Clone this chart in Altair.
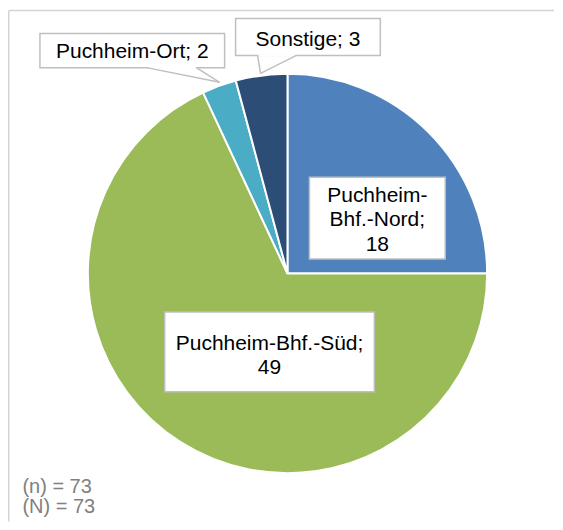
import altair as alt
import pandas as pd

# ---- data ----
categories = ["Puchheim-Bhf.-Nord", "Puchheim-Bhf.-Süd", "Puchheim-Ort", "Sonstige"]
values = [18, 49, 2, 3]
colors = ["#4F81BD", "#9BBB59", "#4BACC6", "#2C4D75"]
label_texts = ["Puchheim-\nBhf.-Nord;\n18", "Puchheim-Bhf.-Süd;\n49", "Puchheim-Ort; 2", "Sonstige; 3"]
note_text = "(n) = 73\n(N) = 73"

# ---- layout (pixel positions of annotation boxes, relative to chart origin) ----
box_x1 = [302, 157, 32, 228]
box_x2 = [438, 367, 217, 373]
box_y1 = [169, 304, 25, 10]
box_y2 = [251, 384, 59.5, 47]
txt_x = [370, 262, 124.5, 300.5]
txt_y = [193.5, 342, 50, 38]   # baseline of first line
# callout wedges: (base left, base right, tip)
wedge_bx1 = [None, None, 140, 250]
wedge_bx2 = [None, None, 189, 289]
wedge_by = [None, None, 59.5, 47]
wedge_tx = [None, None, 212, 253]
wedge_ty = [None, None, 74, 65]

W, H = 547, 514
FONT = "Liberation Sans"

pie_df = pd.DataFrame({"category": categories, "value": values, "order": list(range(len(values)))})
box_df = pd.DataFrame({"x1": box_x1, "x2": box_x2, "y1": box_y1, "y2": box_y2,
                       "tx": txt_x, "ty": txt_y, "label": label_texts})
wd = []
for i in range(len(categories)):
    if wedge_bx1[i] is None:
        continue
    wd.append({"x": wedge_bx1[i], "y": wedge_by[i], "x2": wedge_tx[i], "y2": wedge_ty[i]})
    wd.append({"x": wedge_bx2[i], "y": wedge_by[i], "x2": wedge_tx[i], "y2": wedge_ty[i]})
gap = [{"x": wedge_bx1[i] + 0.8, "y": wedge_by[i], "x2": wedge_bx2[i] - 0.8, "y2": wedge_by[i]}
       for i in range(len(categories)) if wedge_bx1[i] is not None]
wedge_df = pd.DataFrame(wd)
gap_df = pd.DataFrame(gap)

def px(field):
    return alt.X(field, type="quantitative", scale=None, axis=None)

def py(field):
    return alt.Y(field, type="quantitative", scale=None, axis=None)

border = alt.Chart(pd.DataFrame({"a": [0]})).mark_rule(color="#D4D4D4", strokeWidth=1.5).encode(
    x=alt.value(0.75), x2=alt.value(W), y=alt.value(2), y2=alt.value(2))
border_left = alt.Chart(pd.DataFrame({"a": [0]})).mark_rule(color="#D4D4D4", strokeWidth=1.5).encode(
    x=alt.value(0.75), x2=alt.value(0.75), y=alt.value(2), y2=alt.value(H))

pie = alt.Chart(pie_df).mark_arc(outerRadius=200, stroke="white", strokeWidth=2).encode(
    theta=alt.Theta("value:Q", stack=True),
    color=alt.Color("category:N", scale=alt.Scale(domain=categories, range=colors), legend=None),
    order=alt.Order("order:Q"),
    x=alt.value(280),
    y=alt.value(265.5),
)

boxes = alt.Chart(box_df).mark_rect(fill="white", stroke="#BFBFBF", strokeWidth=1.5).encode(
    x=px("x1"), x2="x2", y=py("y1"), y2="y2")

gaps = alt.Chart(gap_df).mark_rule(color="white", strokeWidth=2.5).encode(
    x=px("x"), x2="x2", y=py("y"), y2="y2")

wedges = alt.Chart(wedge_df).mark_rule(color="#BFBFBF", strokeWidth=1.5).encode(
    x=px("x"), x2="x2", y=py("y"), y2="y2")

labels = alt.Chart(box_df).mark_text(
    font=FONT, fontSize=21, lineBreak="\n", lineHeight=24.5, align="center", baseline="alphabetic", color="black"
).encode(x=px("tx"), y=py("ty"), text="label:N")

note = alt.Chart(pd.DataFrame({"t": [note_text]})).mark_text(
    font=FONT, fontSize=20, lineBreak="\n", lineHeight=20, align="left", baseline="alphabetic", color="#808080"
).encode(x=alt.value(14.5), y=alt.value(485), text="t:N")

chart = alt.layer(border, border_left, pie, boxes, gaps, wedges, labels, note).properties(
    width=W, height=H, padding=0
).configure_view(stroke=None)

chart.save("out.html", embed_options={"renderer": "svg", "actions": False})
